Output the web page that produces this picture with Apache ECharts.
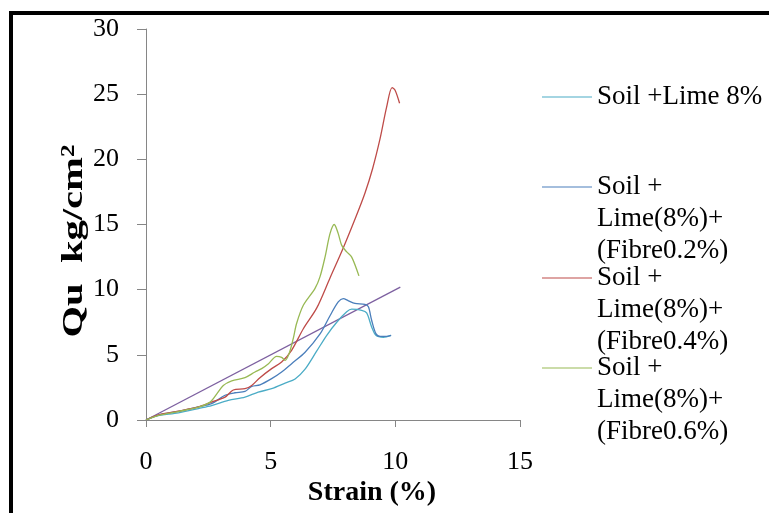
<!DOCTYPE html>
<html>
<head>
<meta charset="utf-8">
<script src="https://cdn.jsdelivr.net/npm/echarts@6/dist/echarts.min.js"></script>
<style>
html,body{margin:0;padding:0;background:#fff;}
#c{width:769px;height:513px;}
</style>
</head>
<body>
<div id="c"></div>
<script>
// ---- data ----
var xTicks = [0, 5, 10, 15];
var yTicks = [0, 5, 10, 15, 20, 25, 30];
var seriesNames = [
  'Soil +Lime 8%',
  'Soil + Lime(8%)+ (Fibre0.2%)',
  'Soil + Lime(8%)+ (Fibre0.4%)',
  'Soil + Lime(8%)+ (Fibre0.6%)'
];
var legendLines = [
  ['Soil +Lime 8%'],
  ['Soil +', 'Lime(8%)+', '(Fibre0.2%)'],
  ['Soil +', 'Lime(8%)+', '(Fibre0.4%)'],
  ['Soil +', 'Lime(8%)+', '(Fibre0.6%)']
];
var limeOnly = [[0,0],[0.4,0.3],[1.3,0.55],[2.1,0.88],[2.63,1.1],[3.3,1.5],[3.97,1.75],[4.5,2.14],[5.04,2.4],[5.58,2.83],[5.98,3.15],[6.38,3.9],[6.85,5.3],[7.25,6.5],[7.65,7.5],[8.05,8.3],[8.25,8.5],[8.65,8.42],[8.85,8.22],[9.05,7.14],[9.22,6.5],[9.52,6.35],[9.83,6.5]];
var fibre02 = [[0,0],[0.5,0.38],[1.3,0.66],[2.1,1.0],[2.63,1.25],[3.17,1.9],[3.57,2.09],[3.97,2.19],[4.24,2.58],[4.57,2.7],[5.04,3.17],[5.44,3.68],[5.84,4.32],[6.38,5.2],[6.98,6.6],[7.38,8.0],[7.71,9.06],[7.91,9.32],[8.12,9.14],[8.38,8.94],[8.78,8.88],[8.92,8.68],[9.05,7.65],[9.22,6.63],[9.39,6.42],[9.65,6.42],[9.83,6.5]];
var fibre04 = [[0,0],[0.5,0.4],[1.3,0.68],[2.1,1.0],[2.63,1.37],[3.17,1.75],[3.5,2.3],[3.97,2.4],[4.24,2.65],[4.57,3.25],[5.04,3.94],[5.44,4.45],[5.84,5.35],[6.31,7.0],[6.85,8.6],[7.38,10.9],[7.91,13.2],[8.38,15.4],[8.78,17.4],[9.09,19.3],[9.39,21.6],[9.65,24.0],[9.87,25.5],[9.99,25.3],[10.17,24.3]];
var fibre06 = [[0,0],[0.5,0.35],[1.3,0.65],[2.1,0.98],[2.57,1.37],[2.84,2.0],[3.1,2.65],[3.44,3.0],[3.97,3.25],[4.37,3.68],[4.64,3.94],[4.9,4.3],[5.24,4.88],[5.44,4.8],[5.58,4.58],[5.74,5.1],[5.9,6.2],[6.04,7.4],[6.31,8.8],[6.78,10.1],[6.98,11.0],[7.18,12.5],[7.38,14.3],[7.55,15.0],[7.71,14.3],[7.85,13.4],[8.05,12.9],[8.25,12.5],[8.54,11.06]];
var trendLine = [[0,0],[10.2,10.2]];

var colors = ['#4bacc6', '#4a7ebb', '#be4b48', '#98b954'];
var seriesData = [limeOnly, fibre02, fibre04, fibre06];

var FONT = 'Liberation Serif';
var chart = echarts.init(document.getElementById('c'), null, {renderer: 'canvas'});

var legendCenters = [97, 187, 278, 368];
var LH = 32;
var legends = seriesNames.map(function (n, i) {
  var lines = legendLines[i];
  var h = lines.length > 1 ? (lines.length + 2) * LH : LH;
  return {
    data: [n],
    orient: 'vertical',
    left: 542,
    top: legendCenters[i] - h / 2,
    padding: 0,
    itemWidth: 50,
    itemHeight: 1.2,
    icon: 'rect',
    selectedMode: false,
    textStyle: {fontFamily: FONT, fontSize: 27, color: '#000', lineHeight: LH},
    formatter: function () {
      return lines.length > 1 ? '\n\n' + lines.join('\n') : lines[0];
    }
  };
});

var series = seriesNames.map(function (n, i) {
  return {
    name: n,
    type: 'line',
    data: seriesData[i],
    smooth: 0.3,
    symbol: 'none',
    lineStyle: {color: colors[i], width: 1.3},
    itemStyle: {color: colors[i]},
    z: 3 + i
  };
});
series.push({
  name: 'trend',
  type: 'line',
  data: trendLine,
  symbol: 'none',
  lineStyle: {color: '#7d60a0', width: 1.3},
  itemStyle: {color: '#7d60a0'},
  z: 2
});

chart.setOption({
  animation: false,
  backgroundColor: '#fff',
  grid: {left: 146, top: 29, right: 249, bottom: 93, containLabel: false},
  legend: legends,
  xAxis: {
    type: 'value', min: 0, max: 15, interval: 5,
    axisLine: {lineStyle: {color: '#868686', width: 1}},
    axisTick: {show: true, length: 7, lineStyle: {color: '#868686'}},
    splitLine: {show: false},
    axisLabel: {fontFamily: FONT, fontSize: 26, color: '#000', margin: 29,
      formatter: function (v) { return xTicks.indexOf(v) >= 0 ? String(v) : ''; }}
  },
  yAxis: {
    type: 'value', min: 0, max: 30, interval: 5,
    axisLine: {show: true, lineStyle: {color: '#868686', width: 1}},
    axisTick: {show: true, length: 9, lineStyle: {color: '#868686'}},
    splitLine: {show: false},
    axisLabel: {fontFamily: FONT, fontSize: 26, color: '#000', margin: 27,
      formatter: function (v) { return yTicks.indexOf(v) >= 0 ? String(v) : ''; }}
  },
  graphic: [
    {type: 'rect', shape: {x: 9, y: 11, width: 760, height: 4}, style: {fill: '#000'}, silent: true},
    {type: 'rect', shape: {x: 9, y: 11, width: 4, height: 502}, style: {fill: '#000'}, silent: true},
    {type: 'text', x: 372, y: 493, silent: true,
      style: {text: 'Strain (%)', fontFamily: FONT, fontWeight: 'bold', fontSize: 28, fill: '#000', align: 'center', verticalAlign: 'middle'}},
    {type: 'text', x: 75, y: 241, rotation: Math.PI / 2, scaleX: 1.4, scaleY: 1.0, silent: true,
      style: {text: '{a|Qu  kg/cm}{s|2}', align: 'center', verticalAlign: 'middle', fill: '#000',
        rich: {
          a: {fontFamily: FONT, fontWeight: 'bold', fontSize: 29, fill: '#000'},
          s: {fontFamily: FONT, fontWeight: 'bold', fontSize: 18, fill: '#000', verticalAlign: 'top', padding: [0, 0, 12, 0]}
        }}}
  ],
  series: series
});
</script>
</body>
</html>
